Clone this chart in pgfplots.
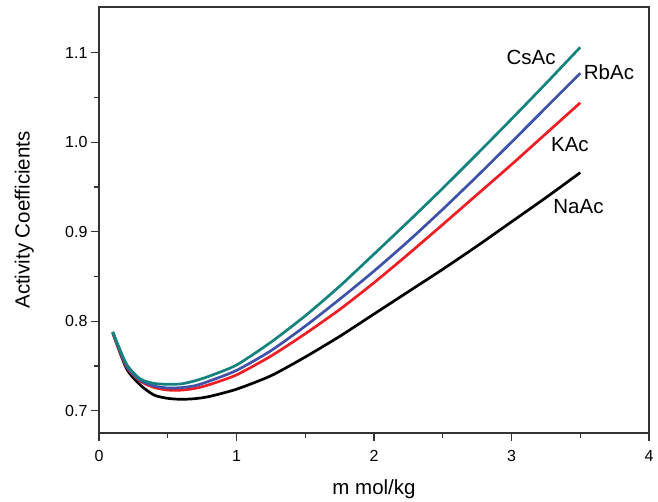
\documentclass[border=0pt]{standalone}
\usepackage{fontspec}
\setmainfont{Liberation Sans}
\usepackage{pgfplots}
\pgfplotsset{compat=1.18}
\definecolor{cteal}{RGB}{20,130,125}
\definecolor{cblue}{RGB}{62,82,170}
\definecolor{cred}{RGB}{237,30,36}
\begin{document}
\begin{tikzpicture}
\useasboundingbox (-99pt,-69pt) rectangle (559pt,433pt);
\begin{axis}[
  at={(0pt,0pt)}, anchor=south west,
  scale only axis, width=550pt, height=426pt,
  xmin=0, xmax=4, ymin=0.6751, ymax=1.151,
  xtick={0,1,2,3,4}, ytick={0.7,0.8,0.9,1.0,1.1},
  minor x tick num=1, minor y tick num=1,
  tick align=outside, tick pos=left,
  major tick length=8pt, minor tick length=5pt,
  every tick/.style={line width=1.2pt, black!80},
  axis line style={line width=1.4pt, black!80},
  /pgf/number format/assume math mode=true,
  yticklabel style={/pgf/number format/fixed, /pgf/number format/fixed zerofill, /pgf/number format/precision=1},
  xticklabel style={yshift=-6pt},
  ticklabel style={font=\fontsize{16}{19}\selectfont},
  label style={font=\fontsize{20.5}{24}\selectfont},
  xlabel={m mol/kg},
  xlabel style={at={(axis description cs:0.5,-0.1455)}, anchor=base},
  ylabel={Activity Coefficients},
  ylabel style={at={(axis description cs:-0.126,0.5)}, anchor=base},
  clip=false,
]
\addplot[black, line width=2.7pt, smooth, tension=0.4] coordinates {
(0.1,0.787)(0.2,0.747)(0.3,0.7287)(0.4,0.7175)(0.5,0.7138)(0.6,0.7127)(0.7,0.7135)(0.8,0.7158)(1.0,0.724)(1.25,0.739)(1.5,0.760)(1.75,0.783)(2.0,0.808)(2.25,0.833)(2.5,0.858)(2.75,0.884)(3.0,0.911)(3.25,0.938)(3.5,0.966)};
\addplot[cred, line width=2.7pt, smooth, tension=0.4] coordinates {
(0.1,0.787)(0.2,0.749)(0.3,0.733)(0.4,0.726)(0.5,0.7231)(0.6,0.723)(0.7,0.725)(0.8,0.729)(1.0,0.740)(1.25,0.761)(1.5,0.786)(1.75,0.813)(2.0,0.843)(2.25,0.875)(2.5,0.908)(2.75,0.9415)(3.0,0.975)(3.25,1.0095)(3.5,1.044)};
\addplot[cblue, line width=2.7pt, smooth, tension=0.4] coordinates {
(0.1,0.788)(0.2,0.750)(0.3,0.734)(0.4,0.7276)(0.5,0.7254)(0.6,0.7258)(0.7,0.728)(0.8,0.733)(1.0,0.745)(1.25,0.767)(1.5,0.7945)(1.75,0.8245)(2.0,0.856)(2.25,0.8895)(2.5,0.925)(2.75,0.962)(3.0,1.000)(3.25,1.0385)(3.5,1.077)};
\addplot[cteal, line width=2.7pt, smooth, tension=0.4] coordinates {
(0.1,0.788)(0.2,0.752)(0.3,0.7355)(0.4,0.7305)(0.5,0.7295)(0.6,0.730)(0.7,0.7335)(0.8,0.7385)(1.0,0.751)(1.25,0.7765)(1.5,0.806)(1.75,0.839)(2.0,0.875)(2.25,0.9113)(2.5,0.9485)(2.75,0.9868)(3.0,1.0258)(3.25,1.0655)(3.5,1.106)};
\node[font=\fontsize{20.5}{24}\selectfont] at (axis cs:3.142,1.095) {CsAc};
\node[font=\fontsize{20.5}{24}\selectfont] at (axis cs:3.709,1.078) {RbAc};
\node[font=\fontsize{20.5}{24}\selectfont] at (axis cs:3.425,0.997) {KAc};
\node[font=\fontsize{20.5}{24}\selectfont] at (axis cs:3.487,0.9276) {NaAc};
\end{axis}
\end{tikzpicture}
\end{document}
